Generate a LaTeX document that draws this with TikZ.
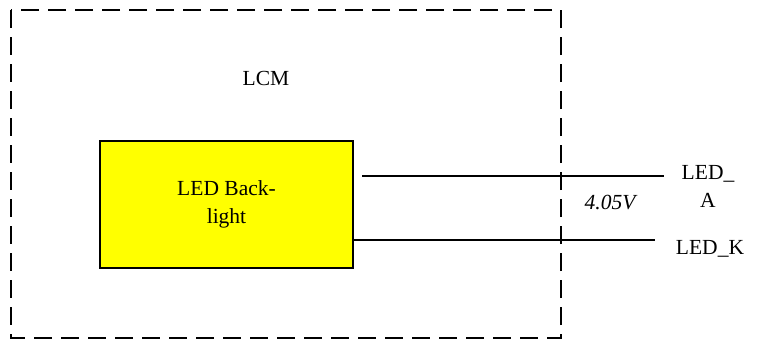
\documentclass[tikz,border=0pt]{standalone}
\usepackage{fontspec}
\setmainfont{Liberation Serif}
\usetikzlibrary{positioning}
\definecolor{ledyellow}{RGB}{255,255,0}

\begin{document}
\begin{tikzpicture}[x=1pt, y=-1pt,
        font=\fontsize{21.5}{27.5}\selectfont,
        lcmbox/.style={draw, line width=2pt, dash pattern=on 18pt off 9pt},
        ledbox/.style={draw, line width=2pt, fill=ledyellow, minimum width=253pt, minimum height=127pt, align=center},
        wire/.style={line width=2.4pt},
        pinlabel/.style={inner sep=0pt, align=center, anchor=base}]
        \useasboundingbox (0, 0) rectangle (758, 340);

        % dashed module outline
        \draw[lcmbox] (11, 10) rectangle (561, 338);
        % label
        \node[inner sep=0pt, anchor=base] (lcm) at (266, 85) {LCM};

        % backlight box
        \node[ledbox] (backlight) at (226.5, 204.5) {LED Back-\\[1pt]light};

        % pin labels
        \node[pinlabel] (leda) at (708, 207) {LED\_\\A};
        \node[pinlabel] (ledk) at (710, 254) {LED\_K};
        \coordinate (aend) at (664, 176);
        \coordinate (kend) at (655, 240);

        % wires
        \draw[wire] ([shift={(8, -28.5)}]backlight.east) -- (aend);
        \draw[wire] ([yshift=-35.5pt]backlight.east) -- (kend);

        % voltage
        \node[inner sep=0pt, anchor=base, font=\fontsize{21.5}{25}\selectfont\itshape] (volt) at (610, 209) {4.05V};
\end{tikzpicture}
\end{document}
